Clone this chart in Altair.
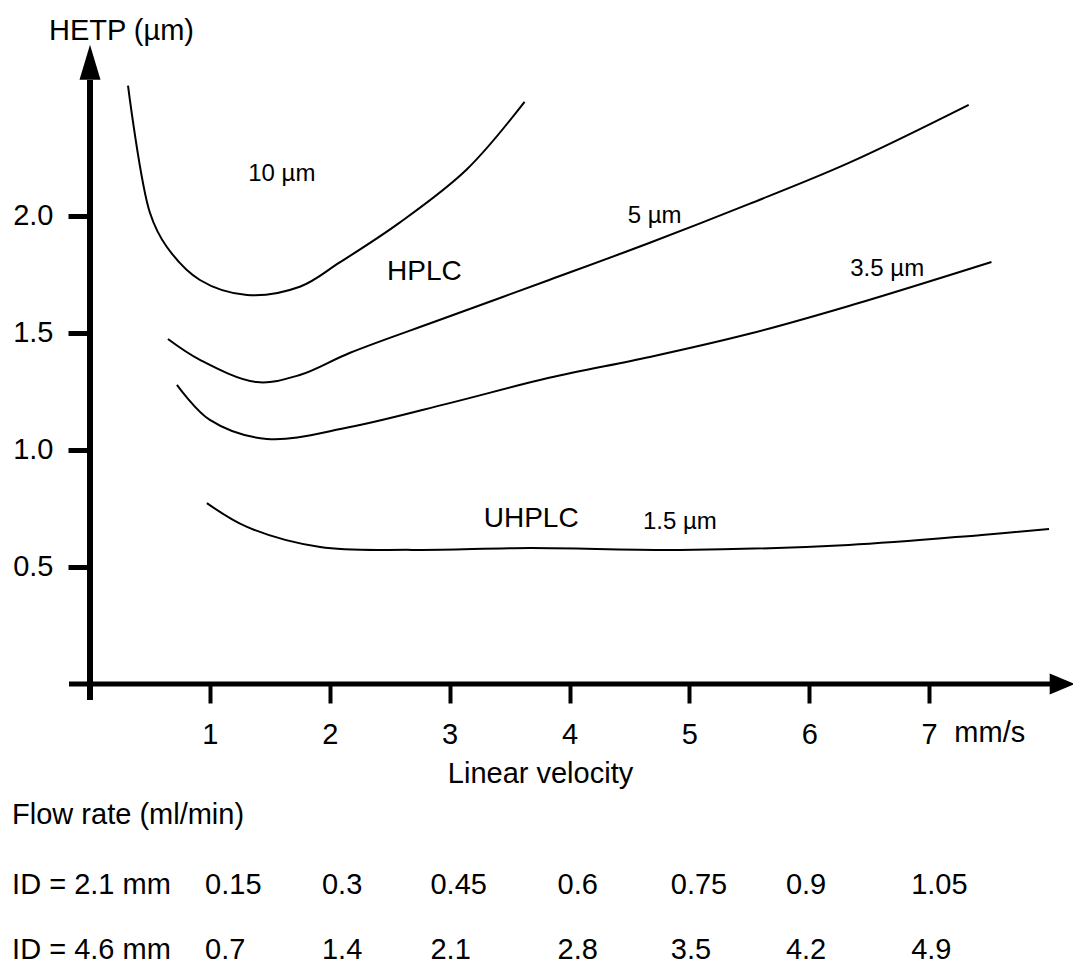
import altair as alt
import pandas as pd

# ---- curves: linear velocity (mm/s) vs HETP (µm) ----
v10 = [0.317, 0.50, 0.64, 0.917, 1.31, 1.75, 2.08, 2.58, 3.14, 3.625]
h10 = [2.556, 2.013, 1.868, 1.726, 1.662, 1.697, 1.80, 1.97, 2.197, 2.487]
v5 = [0.65, 0.917, 1.39, 1.75, 2.17, 2.92, 3.83, 4.67, 5.50, 6.33, 7.33]
h5 = [1.474, 1.385, 1.29, 1.32, 1.415, 1.556, 1.726, 1.885, 2.051, 2.226, 2.474]
v35 = [0.725, 1.0, 1.475, 2.17, 3.0, 3.83, 4.67, 5.50, 6.33, 7.52]
h35 = [1.278, 1.128, 1.047, 1.098, 1.20, 1.308, 1.397, 1.496, 1.615, 1.803]
v15 = [0.975, 1.31, 1.92, 2.69, 3.67, 4.92, 6.33, 7.44, 8.0]
h15 = [0.773, 0.671, 0.585, 0.573, 0.581, 0.573, 0.594, 0.637, 0.662]

# ---- axis ticks ----
vel_ticks = [1, 2, 3, 4, 5, 6, 7]
hetp_ticks = [0.5, 1.0, 1.5, 2.0]

# ---- flow-rate table ----
flow_21 = ["0.15", "0.3", "0.45", "0.6", "0.75", "0.9", "1.05"]
flow_46 = ["0.7", "1.4", "2.1", "2.8", "3.5", "4.2", "4.9"]
# left edges of the table columns, in velocity units (layout only)
table_cols = [0.96, 1.935, 2.84, 3.90, 4.845, 5.805, 6.85]

# ---- in-plot labels ----
ann_text = ["10 µm", "HPLC", "5 µm", "3.5 µm", "UHPLC", "1.5 µm"]
ann_x = [1.60, 2.79, 4.71, 6.65, 3.68, 4.92]
ann_y = [2.18, 1.76, 2.00, 1.775, 0.705, 0.69]
ann_size = [24, 28, 24, 24, 28, 24]

FONT = "Liberation Sans"
FS = 29

rows = []
for name, vs, hs in [("10", v10, h10), ("5", v5, h5), ("3.5", v35, h35), ("1.5", v15, h15)]:
    for i, (v, h) in enumerate(zip(vs, hs)):
        rows.append({"series": name, "i": i, "v": v, "h": h})
curves_df = pd.DataFrame(rows)

xs = alt.Scale(domain=[0, 8.2], nice=False, zero=False)
ys = alt.Scale(domain=[0, 2.7], nice=False, zero=False)

curves = alt.Chart(curves_df).mark_line(
    color="black", strokeWidth=2, interpolate="catmull-rom"
).encode(
    x=alt.X("v:Q", scale=xs, axis=alt.Axis(
        values=vel_ticks, format="d", domain=False, grid=False,
        tickColor="black", tickSize=19, tickWidth=4,
        labelFont=FONT, labelFontSize=FS, labelColor="black", labelPadding=17,
        title="Linear velocity", titleFont=FONT, titleFontSize=FS,
        titleFontWeight="normal", titleColor="black",
        titleX=450, titleY=89, titleAlign="center", titleBaseline="middle")),
    y=alt.Y("h:Q", scale=ys, axis=alt.Axis(
        values=hetp_ticks, format=".1f", domain=False, grid=False,
        tickColor="black", tickSize=22, tickWidth=5,
        labelFont=FONT, labelFontSize=FS, labelColor="black", labelPadding=15,
        title="HETP (µm)", titleFont=FONT, titleFontSize=FS,
        titleFontWeight="normal", titleColor="black", titleAngle=0,
        titleX=31, titleY=-22, titleAlign="center", titleBaseline="middle")),
    detail="series:N",
    order="i:Q",
)

# axis lines with arrows
xaxis_df = pd.DataFrame({"x": [-0.175], "x2": [8.02], "y": [0.0]})
yaxis_df = pd.DataFrame({"x": [0.0], "y": [-0.068], "y2": [2.58]})

xline = alt.Chart(xaxis_df).mark_rule(color="black", strokeWidth=5, strokeCap="butt").encode(
    x=alt.X("x:Q", scale=xs), x2="x2:Q", y=alt.Y("y:Q", scale=ys))
yline = alt.Chart(yaxis_df).mark_rule(color="black", strokeWidth=6, strokeCap="butt").encode(
    x=alt.X("x:Q", scale=xs), y=alt.Y("y:Q", scale=ys), y2="y2:Q")

xarrow = alt.Chart(pd.DataFrame({"x": [8.11], "y": [0.0]})).mark_point(
    shape="M1,0L-1,-0.84L-1,0.84Z", size=625, filled=True, color="black", opacity=1, strokeWidth=0
).encode(x=alt.X("x:Q", scale=xs), y=alt.Y("y:Q", scale=ys))
yarrow = alt.Chart(pd.DataFrame({"x": [0.0], "y": [2.656]})).mark_point(
    shape="M0,-1L-0.6,1L0.6,1Z", size=1225, filled=True, color="black", opacity=1, strokeWidth=0
).encode(x=alt.X("x:Q", scale=xs), y=alt.Y("y:Q", scale=ys))

# in-plot annotations
ann_df = pd.DataFrame({"t": ann_text, "x": ann_x, "y": ann_y, "s": ann_size})
ann = alt.Chart(ann_df).mark_text(
    font=FONT, color="black", align="center", baseline="middle"
).encode(
    x=alt.X("x:Q", scale=xs), y=alt.Y("y:Q", scale=ys),
    text="t:N", size=alt.Size("s:Q", scale=None, legend=None))

# unit label next to tick 7
unit = alt.Chart(pd.DataFrame({"t": ["mm/s"], "x": [7.21], "y": [-0.209]})).mark_text(
    font=FONT, fontSize=FS, color="black", align="left", baseline="middle"
).encode(x=alt.X("x:Q", scale=xs), y=alt.Y("y:Q", scale=ys), text="t:N")

# flow-rate table
left_df = pd.DataFrame({
    "t": ["Flow rate (ml/min)", "ID = 2.1 mm", "ID = 4.6 mm"],
    "x": [-0.65, -0.65, -0.65],
    "y": [-0.56, -0.859, -1.137],
})
left_txt = alt.Chart(left_df).mark_text(
    font=FONT, fontSize=FS, color="black", align="left", baseline="middle"
).encode(x=alt.X("x:Q", scale=xs), y=alt.Y("y:Q", scale=ys), text="t:N")

tab_rows = []
for cx, f in zip(table_cols, flow_21):
    tab_rows.append({"x": cx, "y": -0.859, "t": f})
for cx, f in zip(table_cols, flow_46):
    tab_rows.append({"x": cx, "y": -1.137, "t": f})
tab = alt.Chart(pd.DataFrame(tab_rows)).mark_text(
    font=FONT, fontSize=FS, color="black", align="left", baseline="middle"
).encode(x=alt.X("x:Q", scale=xs), y=alt.Y("y:Q", scale=ys), text="t:N")

chart = alt.layer(
    curves, xline, yline, xarrow, yarrow, ann, unit, left_txt, tab
).properties(
    width=983, height=632,
    autosize=alt.AutoSizeParams(type="none"),
    padding={"left": 90, "top": 52, "right": 0, "bottom": 283},
    background="white",
).configure_view(stroke=None)

chart.save("out.html", embed_options={"renderer": "svg", "actions": False})
